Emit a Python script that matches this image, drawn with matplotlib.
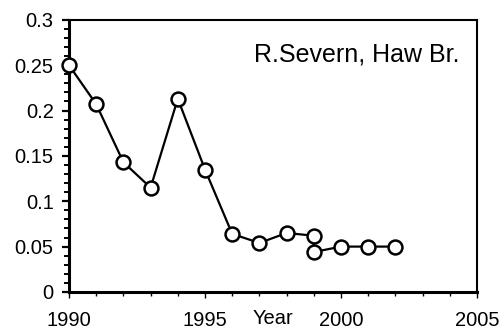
import matplotlib
matplotlib.use('Agg')
import matplotlib.pyplot as plt
from matplotlib.ticker import MultipleLocator

plt.rcParams['font.family'] = ['Liberation Sans', 'DejaVu Sans']

# annual values at Haw Bridge (two readings in 1999)
years = [1990, 1991, 1992, 1993, 1994, 1995, 1996, 1997, 1998, 1999, 1999, 2000, 2001, 2002]
values = [0.250, 0.207, 0.143, 0.115, 0.213, 0.135, 0.064, 0.054, 0.065, 0.062, 0.044, 0.050, 0.050, 0.050]

fig = plt.figure(figsize=(5, 3.31), dpi=100)
ax = fig.add_axes([0.138, 0.118, 0.816, 0.822])

ax.plot(years, values, color='black', lw=1.6, marker='o', markersize=10,
        markerfacecolor='white', markeredgecolor='black', markeredgewidth=1.8,
        clip_on=False, zorder=3)

ax.set_xlim(1990, 2005)
ax.set_ylim(0, 0.3)
ax.set_xticks([1990, 1995, 2000, 2005])
ax.set_yticks([0, 0.05, 0.1, 0.15, 0.2, 0.25, 0.3])
ax.set_yticklabels(['0', '0.05', '0.1', '0.15', '0.2', '0.25', '0.3'])
ax.xaxis.set_minor_locator(MultipleLocator(1))
ax.yaxis.set_minor_locator(MultipleLocator(0.01))

ax.tick_params(axis='y', which='major', direction='out', length=5, width=1.6,
               labelsize=14.5, pad=6)
ax.tick_params(axis='y', which='minor', direction='out', length=3.5, width=1.4)
ax.tick_params(axis='x', which='major', direction='out', length=4, width=1,
               labelsize=14.5, pad=9.5)
ax.tick_params(axis='x', which='minor', direction='out', length=3, width=1)

for side in ['left', 'bottom']:
    ax.spines[side].set_linewidth(2.2)
for side in ['top', 'right']:
    ax.spines[side].set_linewidth(1.5)

ax.set_xlabel('Year', fontsize=14.5)
ax.xaxis.set_label_coords(0.5, -0.062)

ax.text(0.957, 0.872, 'R.Severn, Haw Br.', transform=ax.transAxes,
        ha='right', va='center', fontsize=18)

fig.savefig('out.png', dpi=100)
